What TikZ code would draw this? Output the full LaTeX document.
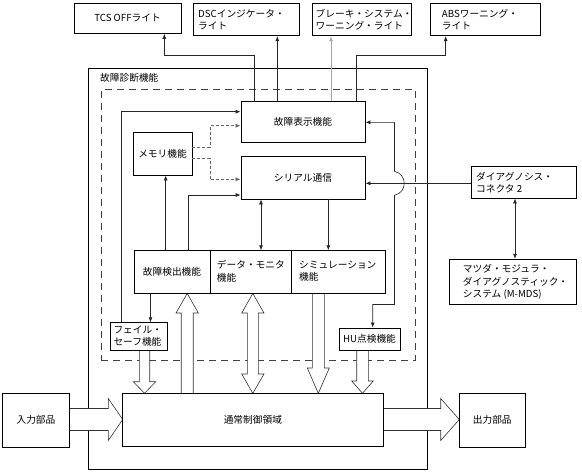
\documentclass[tikz,border=0pt]{standalone}
\usepackage{fontspec}
\setmainfont{Noto Sans CJK JP}
\usetikzlibrary{arrows.meta,calc}
\newcommand\mybox[6]{\node[box, minimum width={#4-#2}, minimum height={#5-#3}] (#1) at ({(#2+#4)/2},{(#3+#5)/2}) {#6};}
\begin{document}
\begin{tikzpicture}[x=1pt,y=-1pt,
  every node/.style={font=\fontsize{9.7}{12.5}\selectfont, inner sep=0pt, text=black},
  box/.style={draw=black, line width=0.9pt, rectangle},
  txt/.style={anchor=west, align=left},
  ln/.style={draw=black!85, line width=0.6pt},
  glin/.style={draw=black!35, line width=0.9pt},
  dl/.style={draw=black!60, line width=0.6pt, dash pattern=on 3pt off 2pt},
  arr/.style={-{Latex[length=5pt,width=4pt]}},
  arrs/.style={{Latex[length=5pt,width=4pt]}-{Latex[length=5pt,width=4pt]}},
  hol/.style={draw=black!80, line width=0.6pt, fill=white, line join=miter}
]
\useasboundingbox (0,0) rectangle (582,472);
% outer and dashed regions
\mybox{fd}{88}{68.3}{427.5}{469.3}{}
\node[anchor=west] (fdt) at (100,77.5) {故障診断機能};
\node[draw=black!75, line width=0.6pt, dash pattern=on 7pt off 5pt, minimum width=314, minimum height=270.7] (dz) at (258,224.65) {};
% hollow arrows
\draw[hol] (69.3,408.5) -- (108.3,408.5) -- (108.3,398.5) -- (122.7,419.5) -- (108.3,440.5) -- (108.3,430.5) -- (69.3,430.5);
\draw[hol] (383,408.5) -- (440.7,408.5) -- (440.7,398.5) -- (459.3,419.5) -- (440.7,440.5) -- (440.7,430.5) -- (383,430.5);
\draw[hol] (139.3,350) -- (139.3,381.7) -- (133.3,381.7) -- (144.5,393.3) -- (155.7,381.7) -- (149.7,381.7) -- (149.7,350);
\draw[hol] (181.2,393.3) -- (181.2,313) -- (176,313) -- (187.2,293.5) -- (198.4,313) -- (193.2,313) -- (193.2,393.3);
\draw[hol] (247.3,313) -- (241.7,313) -- (252.8,293.5) -- (264,313) -- (258.3,313) -- (258.3,374) -- (264,374) -- (252.8,393.3) -- (241.7,374) -- (247.3,374) -- cycle;
\draw[hol] (312.3,293.5) -- (312.3,368) -- (307.3,368) -- (318.3,393.3) -- (329.3,368) -- (324.3,368) -- (324.3,293.5);
\draw[hol] (356.7,350) -- (356.7,381) -- (351.7,381) -- (362.5,393.3) -- (373.3,381) -- (368.3,381) -- (368.3,350);
% top boxes
\mybox{tcs}{74}{3.3}{181}{33.3}{TCS OFFライト}
\mybox{dsc}{193}{3.3}{299}{35.7}{}
\node[txt] (dsct) at (198,19.5) {DSCインジケータ・\\ライト};
\mybox{brk}{312.7}{3.3}{411}{35.7}{}
\node[txt] (brkt) at (315.5,19.5) {ブレーキ・システム・\\ワーニング・ライト};
\mybox{abs}{430}{3.3}{540}{35.7}{}
\node[txt] (abst) at (441.7,19.5) {ABSワーニング・\\ライト};
% inner boxes
\mybox{hy}{241}{101}{365}{142}{故障表示機能}
\mybox{sr}{241}{156.7}{365}{199}{シリアル通信}
\mybox{mem}{133}{132.7}{192}{175}{メモリ機能}
\mybox{ken}{134}{250.7}{210}{293.5}{故障検出機能}
\mybox{dat}{210}{250.7}{291}{293.5}{}
\node[txt] (datt) at (216.7,271.2) {データ・モニタ\\機能};
\mybox{sim}{291}{250.7}{385}{293.5}{}
\node[txt] (simt) at (299,271.2) {シミュレーション\\機能};
\mybox{fs}{110.7}{322.7}{167}{350}{}
\node[txt] (fst) at (113.3,336) {フェイル・\\セーフ機能};
\mybox{hu}{339}{328}{400}{350}{HU点検機能}
\mybox{ts}{122.7}{393.3}{383}{446.5}{通常制御領域}
\mybox{in}{2.7}{393.3}{69.3}{447.3}{入力部品}
\mybox{out}{459.3}{393.3}{525.2}{447.3}{出力部品}
\mybox{con}{471.7}{166.7}{576}{198}{}
\node[txt] (cont) at (476,182.5) {ダイアグノシス・\\コネクタ 2};
\mybox{mm}{449.3}{259.3}{576.7}{304.3}{}
\node[txt] (mmt) at (462.7,282) {マツダ・モジュラ・\\ダイアグノスティック・\\システム (M-MDS)};
% helper coordinates
\coordinate (xT1) at (254.3,0); \coordinate (xT2) at (164.3,0);
\coordinate (xD) at (277.3,0); \coordinate (xB) at (331,0);
\coordinate (xA1) at (356.7,0); \coordinate (xA2) at (445.7,0);
\coordinate (yTop) at (0,55);
\coordinate (xL) at (121.7,0); \coordinate (yL) at (0,111.7);
\coordinate (xM) at (210,0);
\coordinate (yM1) at (0,147.3); \coordinate (yM2) at (0,158.3);
\coordinate (yM3) at (0,125.7); \coordinate (yM4) at (0,179.3);
\coordinate (xK1) at (165.7,0); \coordinate (xK2) at (188,0); \coordinate (yK) at (0,195);
\coordinate (xS1) at (261,0); \coordinate (xS2) at (328.3,0);
\coordinate (xF) at (150.5,0);
\coordinate (xR) at (394.5,0); \coordinate (yH) at (0,122.3); \coordinate (yC) at (0,183.3);
\coordinate (yR) at (0,304.5); \coordinate (xU) at (372.7,0);
\coordinate (xV) at (515,0);
% connectors to lamps
\draw[ln,arr] (hy.north -| xT1) -- (xT1 |- yTop) -- (xT2 |- yTop) -- (tcs.south -| xT2);
\draw[ln,arr] (hy.north -| xD) -- (dsc.south -| xD);
\draw[glin,arr] (hy.north -| xB) -- (brk.south -| xB);
\draw[ln,arr] (hy.north -| xA1) -- (xA1 |- yTop) -- (xA2 |- yTop) -- (abs.south -| xA2);
% internal connectors
\draw[ln,arr] (fs.north -| xL) -- (xL |- yL) -- (hy.west |- yL);
\draw[dl,arr] (mem.east |- yM1) -- (xM |- yM1) -- (xM |- yM3) -- (hy.west |- yM3);
\draw[dl,arr] (mem.east |- yM2) -- (xM |- yM2) -- (xM |- yM4) -- (sr.west |- yM4);
\draw[ln,arr] (ken.north -| xK1) -- (mem.south -| xK1);
\draw[ln,arr] (ken.north -| xK2) -- (xK2 |- yK) -- (sr.west |- yK);
\draw[ln,arrs] (sr.south -| xS1) -- (dat.north -| xS1);
\draw[ln,arr] (sr.south -| xS2) -- (sim.north -| xS2);
\draw[ln,arr] (ken.south -| xF) -- (fs.north -| xF);
\draw[ln,arrs] (hy.east |- yH) -- (xR |- yH) -- ($(xR |- yC)+(0,-12)$) .. controls +(13,3) and +(13,-3) .. ($(xR |- yC)+(0,12)$) -- (xR |- yR) -- (xU |- yR) -- (hu.north -| xU);
\draw[ln,arr] (con.west |- yC) -- (sr.east |- yC);
\draw[ln,arrs] (con.south -| xV) -- (mm.north -| xV);
\end{tikzpicture}
\end{document}
